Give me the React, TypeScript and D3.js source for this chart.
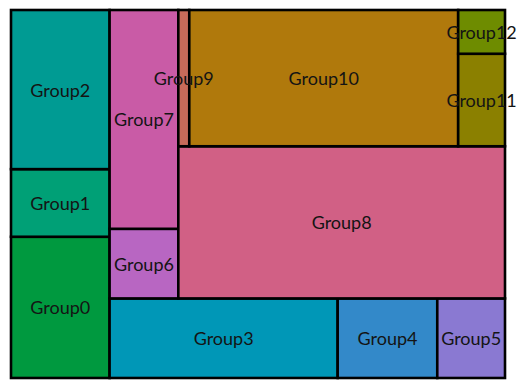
import React from "react";
import * as d3 from "d3";

const groups = ["Group0","Group1","Group2","Group3","Group4","Group5","Group6","Group7","Group8","Group9","Group10","Group11","Group12"];
const values = [14058, 6732, 15840, 18320, 8000, 5440, 4830, 15180, 50184, 1507, 36990, 4371, 2068];
const colors = ["#00993f","#00a076","#009b93","#0097b7","#3389c9","#8a79d2","#b866c2","#c95ba6","#d16085","#c76b5a","#b0790c","#8b8000","#6e8c00"];

const W = 528, H = 389;
const L = 11, R = 505, T = 10, B = 378;

export default function App() {
  const data = { name: "root", children: groups.map((g, i) => ({ name: g, value: values[i], color: colors[i] })) };
  const root = d3.hierarchy<any>(data).sum((d: any) => d.value || 0);
  d3.treemap<any>().tile(d3.treemapSquarify.ratio(1)).size([100, 100]).round(false)(root);
  const x = d3.scaleLinear().domain([0, 100]).range([L, R]);
  const y = d3.scaleLinear().domain([0, 100]).range([B, T]);
  const leaves = root.leaves() as any[];
  return (
    <svg width={W} height={H} style={{ position: "absolute", left: 0, top: 0 }}>
      {leaves.map((n, i) => {
        const px0 = x(n.x0), px1 = x(n.x1);
        const py0 = y(n.y1), py1 = y(n.y0);
        return (
          <rect key={i} x={px0} y={py0} width={px1 - px0} height={py1 - py0} fill={n.data.color} stroke="#000" strokeWidth={2.6} />
        );
      })}
      {leaves.map((n, i) => {
        const cx = (x(n.x0) + x(n.x1)) / 2;
        const cy = (y(n.y0) + y(n.y1)) / 2;
        return (
          <text key={"t" + i} x={cx} y={cy} textAnchor="middle" dominantBaseline="central"
            fontFamily="Lato, sans-serif" fontSize={18} fill="#141414">{n.data.name}</text>
        );
      })}
    </svg>
  );
}
